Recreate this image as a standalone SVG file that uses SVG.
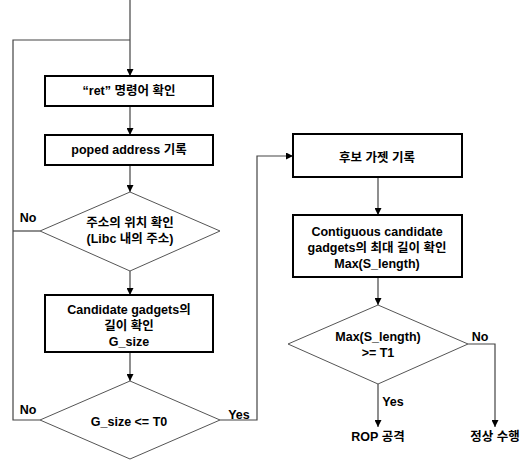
<svg xmlns="http://www.w3.org/2000/svg" width="529" height="462" viewBox="0 0 529 462">
<style>
.box{fill:#fff;stroke:#000;stroke-width:2}
.dia{fill:#fff;stroke:#555;stroke-width:1}
.ln{fill:none;stroke:#444;stroke-width:1.2}
text{font-family:"Liberation Sans","Noto Sans CJK KR",sans-serif;font-weight:bold;font-size:12.5px;fill:#000;text-anchor:middle}
</style>
<defs>
<marker id="ah" viewBox="0 0 10 10" refX="10" refY="5" markerWidth="7" markerHeight="7" orient="auto" markerUnits="userSpaceOnUse">
<path d="M0,0 L10,5 L0,10 Z" fill="#000"/>
</marker>
</defs>
<rect width="529" height="462" fill="#fff"/>
<g id="connectors">
<path class="ln" d="M130,0 V76" marker-end="url(#ah)"/>
<path class="ln" d="M130,40 H13 V420 H40"/>
<path class="ln" d="M13,231 H40"/>
<path class="ln" d="M130,106 V135" marker-end="url(#ah)"/>
<path class="ln" d="M130,165 V192" marker-end="url(#ah)"/>
<path class="ln" d="M130,271 V295" marker-end="url(#ah)"/>
<path class="ln" d="M130,352 V381" marker-end="url(#ah)"/>
<path class="ln" d="M220,420 H257 V156 H293" marker-end="url(#ah)"/>
<path class="ln" d="M378,177 V215" marker-end="url(#ah)"/>
<path class="ln" d="M378,277 V305" marker-end="url(#ah)"/>
<path class="ln" d="M378,384 V427" marker-end="url(#ah)"/>
<path class="ln" d="M468,344 H495 V427" marker-end="url(#ah)"/>
<text x="28" y="222">No</text>
<text x="28" y="414">No</text>
<text x="239" y="419">Yes</text>
<text x="393" y="406">Yes</text>
<text x="480" y="341">No</text>
</g>
<g id="n1"><rect class="box" x="45" y="76" width="168" height="30"/><text x="129" y="95">“ret” 명령어 확인</text></g>
<g id="n2"><rect class="box" x="45" y="135" width="168" height="30"/><text x="129" y="154">poped address 기록</text></g>
<g id="n3"><polygon class="dia" points="130,192 220,231 130,271 40,231"/><text x="130" y="227">주소의 위치 확인</text><text x="130" y="243">(Libc 내의 주소)</text></g>
<g id="n4"><rect class="box" x="45" y="295" width="168" height="57"/><text x="129" y="314">Candidate gadgets의</text><text x="129" y="330">길이 확인</text><text x="129" y="346">G_size</text></g>
<g id="n5"><polygon class="dia" points="130,381 220,420 130,459 40,420"/><text x="129" y="426">G_size &lt;= T0</text></g>
<g id="n6"><rect class="box" x="293" y="134" width="169" height="43"/><text x="377" y="162">후보 가젯 기록</text></g>
<g id="n7"><rect class="box" x="293" y="215" width="169" height="62"/><text x="377" y="236">Contiguous candidate</text><text x="377" y="252">gadgets의 최대 길이 확인</text><text x="377" y="268">Max(S_length)</text></g>
<g id="n8"><polygon class="dia" points="378,305 468,344 378,384 288,344"/><text x="378" y="341">Max(S_length)</text><text x="378" y="357">&gt;= T1</text></g>
<g id="n9"><text x="378" y="441">ROP 공격</text></g>
<g id="n10"><text x="495" y="441">정상 수행</text></g>
</svg>
